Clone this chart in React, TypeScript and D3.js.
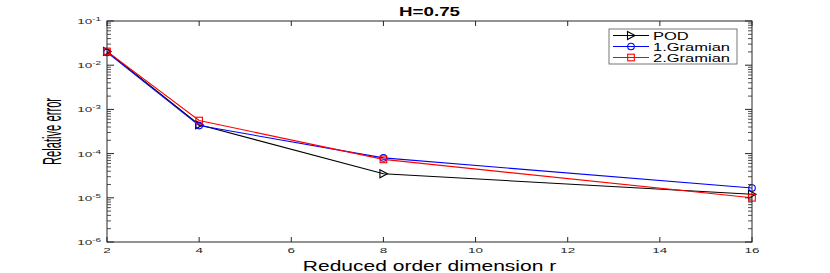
import * as d3 from "d3";
import React from "react";

// reduced order dimension r
const dims = [2, 4, 8, 16];
// relative errors
const podErr = [0.0205, 4.5e-4, 3.5e-5, 1.2e-5];
const gram1Err = [0.0195, 4.3e-4, 8.0e-5, 1.66e-5];
const gram2Err = [0.0205, 5.6e-4, 7.4e-5, 1.0e-5];
const xTicks = [2, 4, 6, 8, 10, 12, 14, 16];
const yExps = [-1, -2, -3, -4, -5, -6];
const seriesNames = ["POD", "1.Gramian", "2.Gramian"];

const W = 830;
const H = 273;
const margin = {left: 107, right: 78, top: 21, bottom: 31};
const SX = 1.5; // horizontal stretch of text in the reference

const App = () => {
    const x = d3.scaleLinear().domain([2, 16]).range([margin.left, W - margin.right]);
    const y = d3.scaleLog().domain([1e-6, 1e-1]).range([H - margin.bottom, margin.top]);
    const line = d3.line<number>().x((d, i) => x(dims[i])).y(d => y(d));

    const series = [
        {name: seriesNames[0], values: podErr, color: "#000000", marker: "tri"},
        {name: seriesNames[1], values: gram1Err, color: "#0000ff", marker: "circle"},
        {name: seriesNames[2], values: gram2Err, color: "#ff0000", marker: "square"},
    ];

    const marker = (kind: string, cx: number, cy: number, color: string, key?: any) => {
        if (kind === "circle") return <circle key={key} cx={cx} cy={cy} r={3.3} fill="none" stroke={color} strokeWidth={1.1}/>;
        if (kind === "square") return <rect key={key} x={cx - 3.3} y={cy - 3.3} width={6.6} height={6.6} fill="none" stroke={color} strokeWidth={1.1}/>;
        const p = d3.path();
        p.moveTo(cx - 3.5, cy - 4);
        p.lineTo(cx + 4, cy);
        p.lineTo(cx - 3.5, cy + 4);
        p.closePath();
        return <path key={key} d={p.toString()} fill="none" stroke={color} strokeWidth={1.1}/>;
    };

    // minor ticks for log axis
    const minor: number[] = [];
    for (let e = -6; e < -1; e++) {
        for (let k = 2; k <= 9; k++) minor.push(k * Math.pow(10, e));
    }

    const x0 = margin.left, x1 = W - margin.right, y0 = H - margin.bottom, y1 = margin.top;
    const axisColor = "#262626";
    const legend = {x: 609, y: 29, w: 128, h: 35};

    return (
        <svg width={W} height={H} style={{position: "absolute", left: 0, top: 0, background: "#fff"}}
             fontFamily="'Liberation Sans', Arial, sans-serif">
            {/* title */}
            <text transform={`translate(${(x0 + x1) / 2},16) scale(${SX},1)`} textAnchor="middle"
                  fontSize={12.5} fontWeight="bold" fill="#000">H=0.75</text>

            {/* lines */}
            {series.map(s => (
                <g key={s.name}>
                    <path d={line(s.values) || ""} fill="none" stroke={s.color} strokeWidth={1.1}/>
                    {s.values.map((v, i) => marker(s.marker, x(dims[i]), y(v), s.color, i))}
                </g>
            ))}

            {/* axes box */}
            <rect x={x0} y={y1} width={x1 - x0} height={y0 - y1} fill="none" stroke={axisColor} strokeWidth={1}/>

            {/* x ticks */}
            {xTicks.map(t => (
                <g key={t}>
                    <line x1={x(t)} x2={x(t)} y1={y0} y2={y0 - 5} stroke={axisColor}/>
                    <line x1={x(t)} x2={x(t)} y1={y1} y2={y1 + 5} stroke={axisColor}/>
                    <text transform={`translate(${x(t)},253) scale(1.8,1)`} textAnchor="middle"
                          fontSize={7.5} fill="#262626">{t}</text>
                </g>
            ))}

            {/* y ticks */}
            {yExps.map(e => {
                const v = Math.pow(10, e);
                return (
                    <g key={e}>
                        <line x1={x0} x2={x0 + 7} y1={y(v)} y2={y(v)} stroke={axisColor}/>
                        <line x1={x1} x2={x1 - 7} y1={y(v)} y2={y(v)} stroke={axisColor}/>
                        <text transform={`translate(${x0 - 6},${y(v) + 3}) scale(1.8,1)`} textAnchor="end"
                              fontSize={7.5} fill="#262626">
                            <tspan>10</tspan>
                            <tspan dy={-3} fontSize={5.5}>{e}</tspan>
                        </text>
                    </g>
                );
            })}
            {minor.map((v, i) => (
                <g key={i}>
                    <line x1={x0} x2={x0 + 4} y1={y(v)} y2={y(v)} stroke={axisColor} strokeWidth={0.8}/>
                    <line x1={x1} x2={x1 - 4} y1={y(v)} y2={y(v)} stroke={axisColor} strokeWidth={0.8}/>
                </g>
            ))}

            {/* axis labels */}
            <text transform={`translate(${(x0 + x1) / 2},271) scale(1.45,1)`} textAnchor="middle"
                  fontSize={14.5} fill="#000">Reduced order dimension r</text>
            <text transform={`translate(61,${(y0 + y1) / 2}) scale(1.8,1) rotate(-90) scale(0.8,1)`}
                  textAnchor="middle" fontSize={14} fill="#000">Relative error</text>

            {/* legend */}
            <rect x={legend.x} y={legend.y} width={legend.w} height={legend.h} fill="#fff" stroke="#555" strokeWidth={0.8}/>
            {series.map((s, i) => {
                const ly = legend.y + 6.5 + i * 11;
                return (
                    <g key={s.name}>
                        <line x1={legend.x + 4} x2={legend.x + 40} y1={ly} y2={ly} stroke={s.color} strokeWidth={1.1}/>
                        {marker(s.marker, legend.x + 22, ly, s.color)}
                        <text transform={`translate(${legend.x + 44},${ly + 4}) scale(${SX},1)`}
                              fontSize={11} fill="#000">{s.name}</text>
                    </g>
                );
            })}
        </svg>
    );
};

export default App;
